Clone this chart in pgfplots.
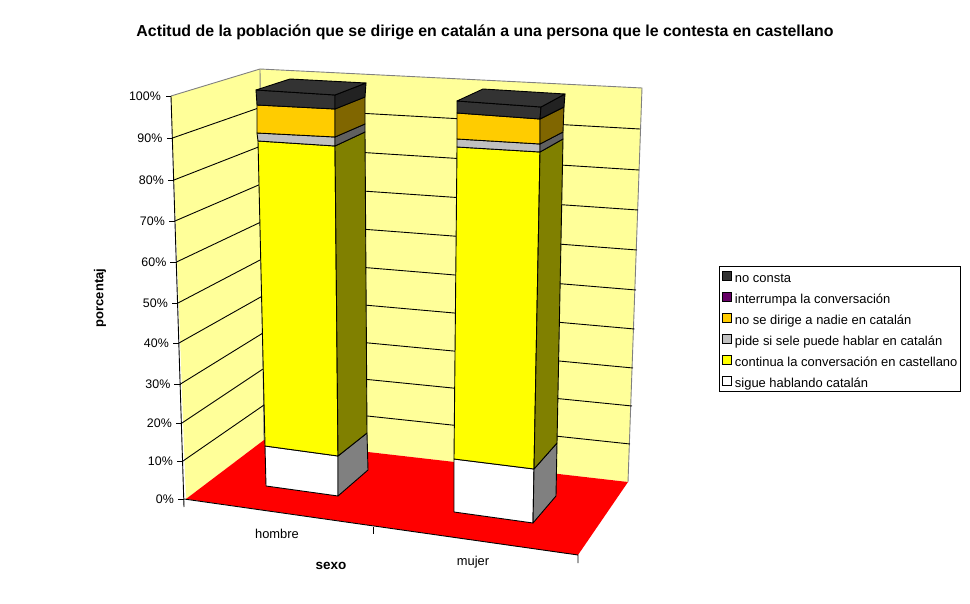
\documentclass[border=0pt]{standalone}
\usepackage{fontspec}
\setmainfont{Liberation Sans}
\usepackage{pgfplots}
\pgfplotsset{compat=1.18}

% colours of the chart
\definecolor{wall}{HTML}{FFFF99}
\definecolor{walledge}{HTML}{808080}
\definecolor{nc}{HTML}{333333}
\definecolor{ncside}{HTML}{222222}
\definecolor{inter}{HTML}{660066}
\definecolor{orange}{HTML}{FFCC00}
\definecolor{orangeside}{HTML}{806600}
\definecolor{gray1}{HTML}{C0C0C0}
\definecolor{grayside}{HTML}{606060}
\definecolor{yel}{HTML}{FFFF00}
\definecolor{yelside}{HTML}{808000}
\definecolor{whiteside}{HTML}{808080}

\begin{document}
\begin{tikzpicture}
\begin{axis}[
scale only axis,
width=970pt,
height=604pt,
xmin=0, xmax=970,
ymin=0, ymax=604,
y dir=reverse, % same coordinates as the picture, the 3D view is read off it
axis lines=none,
clip=false,
poly/.style={forget plot, draw=black, line width=0.9pt, line join=round},
grid line/.style={forget plot, draw=black, line width=0.9pt},
legend style={at={(axis cs:718.5,266)}, anchor=north west, draw=black, line width=0.9pt,
  font=\fontsize{12.95}{14}\selectfont, row sep=9pt, inner xsep=2pt, inner ysep=4pt,
  nodes={text height=12pt, text depth=0pt, inner ysep=0pt, inner xsep=1.5pt},
  /tikz/every even column/.append style={column sep=0pt}},
legend cell align=left,
legend image code/.code={\draw[#1, line width=0.7pt] (1pt,-4pt) rectangle (10pt,5pt);
  \path[draw=none, fill=none] (0pt,0pt) -- (12.5pt,0pt);},
]
% page background, keeps the picture at full size
\addplot[forget plot, fill=white, draw=none] coordinates {(0,0)(970,0)(970,604)(0,604)} --cycle;
% walls
\addplot[forget plot, fill=wall, draw=none] coordinates {(171,96)(260,69)(264,440)(186,499)} --cycle;
\addplot[forget plot, fill=wall, draw=none] coordinates {(260,69)(642,88)(628,482)(264,440)} --cycle;
\addplot[forget plot, draw=walledge, line width=0.9pt] coordinates {(171,96)(260,69)(642,88)(628,482)};
\addplot[forget plot, draw=walledge, line width=0.9pt] coordinates {(260,69)(264,440)};

% grid on the walls, 10 to 90 %
\addplot[grid line] coordinates {(183,461)(264,405)(630,444)};
\addplot[grid line] coordinates {(182,423)(263,369)(632,406)};
\addplot[grid line] coordinates {(180.5,384)(263,333)(633,368)};
\addplot[grid line] coordinates {(179,343)(262.5,296)(634.5,329)};
\addplot[grid line] coordinates {(178,303)(262,259)(636,290)};
\addplot[grid line] coordinates {(176.5,262)(262,221.5)(637,250)};
\addplot[grid line] coordinates {(175,221)(261,184)(638,210)};
\addplot[grid line] coordinates {(174,180)(261,146)(639,170)};
\addplot[grid line] coordinates {(172.5,138)(260,107.5)(640,129)};

% floor
\addplot[forget plot, fill=red, draw=none] coordinates {(186,499)(264,440)(628,482)(578,555)} --cycle;

% value axis, ticks
\addplot[grid line] coordinates {(171,96)(184,507)};
\addplot[grid line] coordinates {(166,96)(171,96)};
\addplot[grid line] coordinates {(167,138)(172.5,138)};
\addplot[grid line] coordinates {(168,180)(174,180)};
\addplot[grid line] coordinates {(169,221)(175,221)};
\addplot[grid line] coordinates {(170,262)(176.5,262)};
\addplot[grid line] coordinates {(172,303)(178,303)};
\addplot[grid line] coordinates {(173,343)(179,343)};
\addplot[grid line] coordinates {(174,384)(180.5,384)};
\addplot[grid line] coordinates {(176,423)(182,423)};
\addplot[grid line] coordinates {(177,461)(183,461)};
\addplot[grid line] coordinates {(178,499)(184,499)};
% category axis
\addplot[grid line] coordinates {(184,499)(578,555)(578,563)};
\addplot[grid line] coordinates {(373,527)(373,534)};

% bar hombre: front faces
\addplot[poly, fill=white] coordinates {(266,486)(338,496)(338,456)(265,446)} --cycle;
\addplot[poly, fill=yel] coordinates {(265,446)(338,456)(335,146)(258,141)} --cycle;
\addplot[poly, fill=gray1] coordinates {(258,141)(335,146)(335,137)(257,133)} --cycle;
\addplot[poly, fill=orange] coordinates {(257,133)(335,137)(335,109)(257,105)} --cycle;
\addplot[poly, fill=nc] coordinates {(257,105)(335,109)(335,95)(256,90)} --cycle;
% bar hombre: side faces
\addplot[poly, fill=whiteside] coordinates {(338,496)(368,470)(367,433)(338,456)} --cycle;
\addplot[poly, fill=yelside] coordinates {(338,456)(367,433)(365,132)(335,146)} --cycle;
\addplot[poly, fill=grayside] coordinates {(335,146)(365,132)(365,124)(335,137)} --cycle;
\addplot[poly, fill=orangeside] coordinates {(335,137)(365,124)(365,97)(335,109)} --cycle;
\addplot[poly, fill=ncside] coordinates {(335,109)(365,97)(366,83)(335,95)} --cycle;
% bar hombre: top
\addplot[poly, fill=nc] coordinates {(256,90)(335,95)(366,83)(290,79)} --cycle;

% bar mujer: front faces
\addplot[poly, fill=white] coordinates {(454,512)(533,523)(534,469)(454,459)} --cycle;
\addplot[poly, fill=yel] coordinates {(454,459)(534,469)(540,152)(457,147)} --cycle;
\addplot[poly, fill=gray1] coordinates {(457,147)(540,152)(540,144)(457,139)} --cycle;
\addplot[poly, fill=orange] coordinates {(457,139)(540,144)(540,119)(457,113)} --cycle;
\addplot[poly, fill=nc] coordinates {(457,113)(540,119)(541,107)(457,101)} --cycle;
% bar mujer: side faces
\addplot[poly, fill=whiteside] coordinates {(533,523)(556,496)(557,443)(534,469)} --cycle;
\addplot[poly, fill=yelside] coordinates {(534,469)(557,443)(563,139)(540,152)} --cycle;
\addplot[poly, fill=grayside] coordinates {(540,152)(563,139)(563,132)(540,144)} --cycle;
\addplot[poly, fill=orangeside] coordinates {(540,144)(563,132)(564,107)(540,119)} --cycle;
\addplot[poly, fill=ncside] coordinates {(540,119)(564,107)(565,94)(541,107)} --cycle;
% bar mujer: top
\addplot[poly, fill=nc] coordinates {(457,101)(541,107)(565,94)(483,89)} --cycle;

% legend
\addlegendimage{fill=nc, draw=black}
\addlegendentry{no consta}
\addlegendimage{fill=inter, draw=black}
\addlegendentry{interrumpa la conversación}
\addlegendimage{fill=orange, draw=black}
\addlegendentry{no se dirige a nadie en catalán}
\addlegendimage{fill=gray1, draw=black}
\addlegendentry{pide si sele puede hablar en catalán}
\addlegendimage{fill=yel, draw=black}
\addlegendentry{continua la conversación en castellano}
\addlegendimage{fill=white, draw=black}
\addlegendentry{sigue hablando catalán}

% texts
\node[font=\bfseries\fontsize{15.9}{18}\selectfont] at (axis cs:485,32) {Actitud de la población que se dirige en catalán a una persona que le contesta en castellano};
\node[font=\bfseries\fontsize{13}{14}\selectfont, rotate=90] at (axis cs:100,298) {porcentaj};
\node[font=\bfseries\fontsize{13.5}{14}\selectfont] at (axis cs:331,566) {sexo};
\node[font=\fontsize{12.9}{14}\selectfont] at (axis cs:277,534) {hombre};
\node[font=\fontsize{12.9}{14}\selectfont] at (axis cs:473,562) {mujer};
\foreach \lab/\xx/\yy in {100/161/96,90/162.5/138,80/164/180,70/165/221,60/166.5/262,50/168/303,40/169/343,30/170.5/384,20/172/423,10/173/461,0/174/499}{
  \edef\temp{\noexpand\node[font=\noexpand\fontsize{12.4}{14}\noexpand\selectfont, anchor=east, inner sep=0pt] at (axis cs:\xx,\yy) {\lab\noexpand\%};}
  \temp
}
\end{axis}
\end{tikzpicture}
\end{document}
